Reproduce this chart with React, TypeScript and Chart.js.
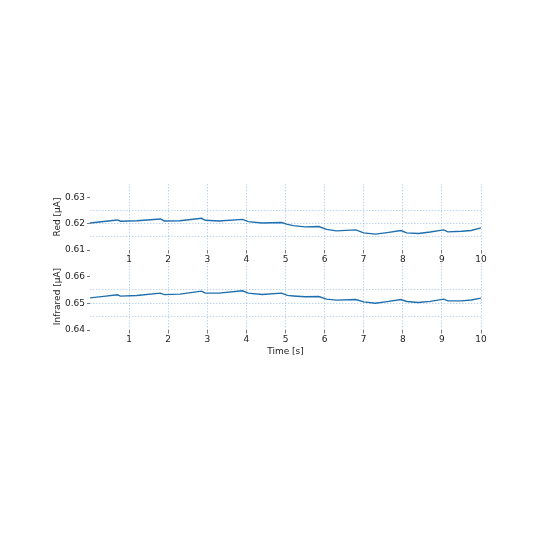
import { useEffect, useRef } from 'react';
import Chart from 'chart.js/auto';

// Sample times in seconds, shared by both channels
const times = [
  0, 0.35, 0.7, 0.78, 1.2, 1.8, 1.9, 2.3, 2.85, 2.95, 3.3, 3.9, 4.05, 4.4, 4.9, 5.05, 5.2,
  5.5, 5.85, 6.05, 6.3, 6.8, 7.0, 7.3, 7.6, 7.95, 8.1, 8.4, 8.7, 9.05, 9.15, 9.5, 9.75, 10,
];

const redValues = [
  0.62025, 0.6208, 0.62138, 0.6209, 0.6211, 0.62175, 0.621, 0.6211, 0.622, 0.62125, 0.621,
  0.6216, 0.62075, 0.62025, 0.6204, 0.6197, 0.61925, 0.61875, 0.61888, 0.6178, 0.61725,
  0.61763, 0.6165, 0.616, 0.6166, 0.61738, 0.6165, 0.61625, 0.6168, 0.61763, 0.61688, 0.6171,
  0.6174, 0.6184,
];

const infraredValues = [
  0.652, 0.65255, 0.65313, 0.65265, 0.6529, 0.65375, 0.6532, 0.6534, 0.6545, 0.65375, 0.65375,
  0.65463, 0.65375, 0.65325, 0.65375, 0.6529, 0.6527, 0.65238, 0.6525, 0.6515, 0.65113,
  0.65138, 0.6505, 0.65, 0.6506, 0.65138, 0.65063, 0.65025, 0.6507, 0.6515, 0.65088, 0.65088,
  0.6512, 0.65188,
];

const xTicks = [1, 2, 3, 4, 5, 6, 7, 8, 9, 10];
const redYRange = [0.61, 0.635];
const redGrid = [0.615, 0.62, 0.625];
const infraredYRange = [0.64, 0.665];
const infraredGrid = [0.645, 0.65, 0.655];

const FONT = { family: '"DejaVu Sans", sans-serif', size: 9 };
const GRID = 'rgba(110, 160, 215, 0.55)';
const TICK = '#555';

const near = (a: number, b: number) => Math.abs(a - b) < 1e-6;
const isMajor = (v: number) => near(Math.round(v * 100) / 100, v);

function makeOptions(yRange: number[], gridAt: number[], yTitle: string, xTitle: string | null, xHeight: number, topPad: number) {
  return {
    animation: false as const,
    responsive: false,
    maintainAspectRatio: false,
    layout: { padding: { left: 0, right: 59, top: topPad, bottom: 0 } },
    plugins: { legend: { display: false }, tooltip: { enabled: false } },
    scales: {
      x: {
        type: 'linear' as const,
        min: 0,
        max: 10,
        afterFit: (s: any) => { s.height = xHeight; },
        border: { display: false, dash: [1.5, 1.5] },
        grid: {
          color: (c: any) => (xTicks.includes(c.tick?.value) ? GRID : 'transparent'),
          tickColor: (c: any) => (xTicks.includes(c.tick?.value) ? TICK : 'transparent'),
          tickBorderDash: [],
          lineWidth: 0.8,
          tickLength: 3.5,
        },
        ticks: {
          stepSize: 1,
          autoSkip: false,
          maxRotation: 0,
          padding: 1,
          color: '#222',
          font: FONT,
          callback: (v: any) => (xTicks.includes(v) ? String(v) : ''),
        },
        title: xTitle
          ? { display: true, text: xTitle, color: '#222', font: FONT, padding: { top: 0, bottom: 12.6 } }
          : { display: false },
      },
      y: {
        min: yRange[0],
        max: yRange[1],
        afterFit: (s: any) => { s.width = 90; },
        border: { display: false, dash: [1.5, 1.5] },
        grid: {
          color: (c: any) => (gridAt.some((g) => near(g, c.tick?.value)) ? GRID : 'transparent'),
          tickColor: (c: any) => (isMajor(c.tick?.value) ? TICK : 'transparent'),
          tickBorderDash: [],
          lineWidth: 0.8,
          tickLength: 3,
        },
        ticks: {
          stepSize: 0.005,
          autoSkip: false,
          padding: 2,
          color: '#222',
          font: FONT,
          callback: (v: any) => (isMajor(v) && !near(v, yRange[1]) ? Number(v).toFixed(2) : ''),
        },
        title: { display: true, text: yTitle, color: '#222', font: FONT, padding: { top: 52.6, bottom: 0 } },
      },
    },
  };
}

function SignalChart({ values, yRange, gridAt, yTitle, xTitle, height, xHeight, topPad }: {
  values: number[]; yRange: number[]; gridAt: number[]; yTitle: string; xTitle: string | null;
  height: number; xHeight: number; topPad: number;
}) {
  const ref = useRef<HTMLCanvasElement>(null);

  useEffect(() => {
    if (!ref.current) return;
    const chart = new Chart(ref.current, {
      type: 'line',
      data: {
        datasets: [
          {
            data: times.map((t, i) => ({ x: t, y: values[i] })),
            borderColor: '#1f6fae',
            borderWidth: 1.4,
            pointRadius: 0,
            tension: 0,
            fill: false,
          },
        ],
      },
      options: makeOptions(yRange, gridAt, yTitle, xTitle, xHeight, topPad) as any,
    });
    return () => chart.destroy();
  }, []);

  return <canvas ref={ref} width={540} height={height} style={{ width: 540, height }} />;
}

export default function App() {
  useEffect(() => {
    document.body.style.margin = '0';
  }, []);

  return (
    <div style={{ position: 'relative', width: 540, height: 540, background: '#fff' }}>
      <div style={{ position: 'absolute', left: 0, top: 170 }}>
        <SignalChart values={redValues} yRange={redYRange} gridAt={redGrid} yTitle="Red [μA]"
          xTitle={null} height={100} xHeight={20} topPad={14} />
      </div>
      <div style={{ position: 'absolute', left: 0, top: 250 }}>
        <SignalChart values={infraredValues} yRange={infraredYRange} gridAt={infraredGrid}
          yTitle="Infrared [μA]" xTitle="Time [s]" height={120} xHeight={40} topPad={13} />
      </div>
    </div>
  );
}
